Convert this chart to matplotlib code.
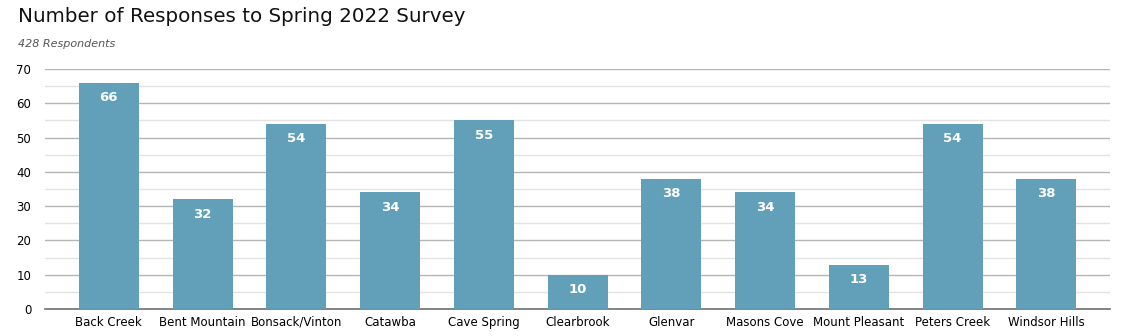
import matplotlib.pyplot as plt
import numpy as np

areas = ['Back Creek', 'Bent Mountain', 'Bonsack/Vinton', 'Catawba', 'Cave Spring',
         'Clearbrook', 'Glenvar', 'Masons Cove', 'Mount Pleasant', 'Peters Creek',
         'Windsor Hills']
responses = [66, 32, 54, 34, 55, 10, 38, 34, 13, 54, 38]

plt.rcParams['font.family'] = 'DejaVu Sans'

fig = plt.figure(figsize=(11.27, 3.36), dpi=100)
ax = fig.add_axes([0.040, 0.080, 0.945, 0.715])

x = np.arange(len(areas))
ax.bar(x, responses, width=0.64, color='#62a0b9', zorder=3)

# value labels sit just inside the top of each bar
for xi, v in zip(x, responses):
    ax.text(xi, v - 2.4, str(v), ha='center', va='top', color='white',
            fontsize=9.5, fontweight='bold', zorder=4)

ax.set_xlim(-0.68, len(areas) - 1 + 0.68)
ax.set_ylim(0, 70)
ax.set_yticks(range(0, 71, 10))
ax.set_yticks(range(5, 70, 10), minor=True)
ax.grid(axis='y', which='major', color='#b5b5b5', linewidth=1, zorder=0)
ax.grid(axis='y', which='minor', color='#e2e2e2', linewidth=1, zorder=0)

ax.set_xticks(x)
ax.set_xticklabels(areas, fontsize=8.5, va='baseline')
ax.tick_params(axis='x', length=0, pad=12)
ax.tick_params(axis='y', which='both', length=0, labelsize=8.5, pad=10)
ax.tick_params(axis='y', which='minor', labelleft=False)

for side in ['top', 'right', 'left']:
    ax.spines[side].set_visible(False)
ax.spines['bottom'].set_color('#707070')
ax.spines['bottom'].set_linewidth(1.2)

fig.text(0.016, 0.952, 'Number of Responses to Spring 2022 Survey', fontsize=14.3,
         ha='left', va='center', color='#111111')
fig.text(0.016, 0.870, '428 Respondents', fontsize=8, style='italic',
         ha='left', va='center', color='#555555')

fig.savefig('out.png', dpi=100)
